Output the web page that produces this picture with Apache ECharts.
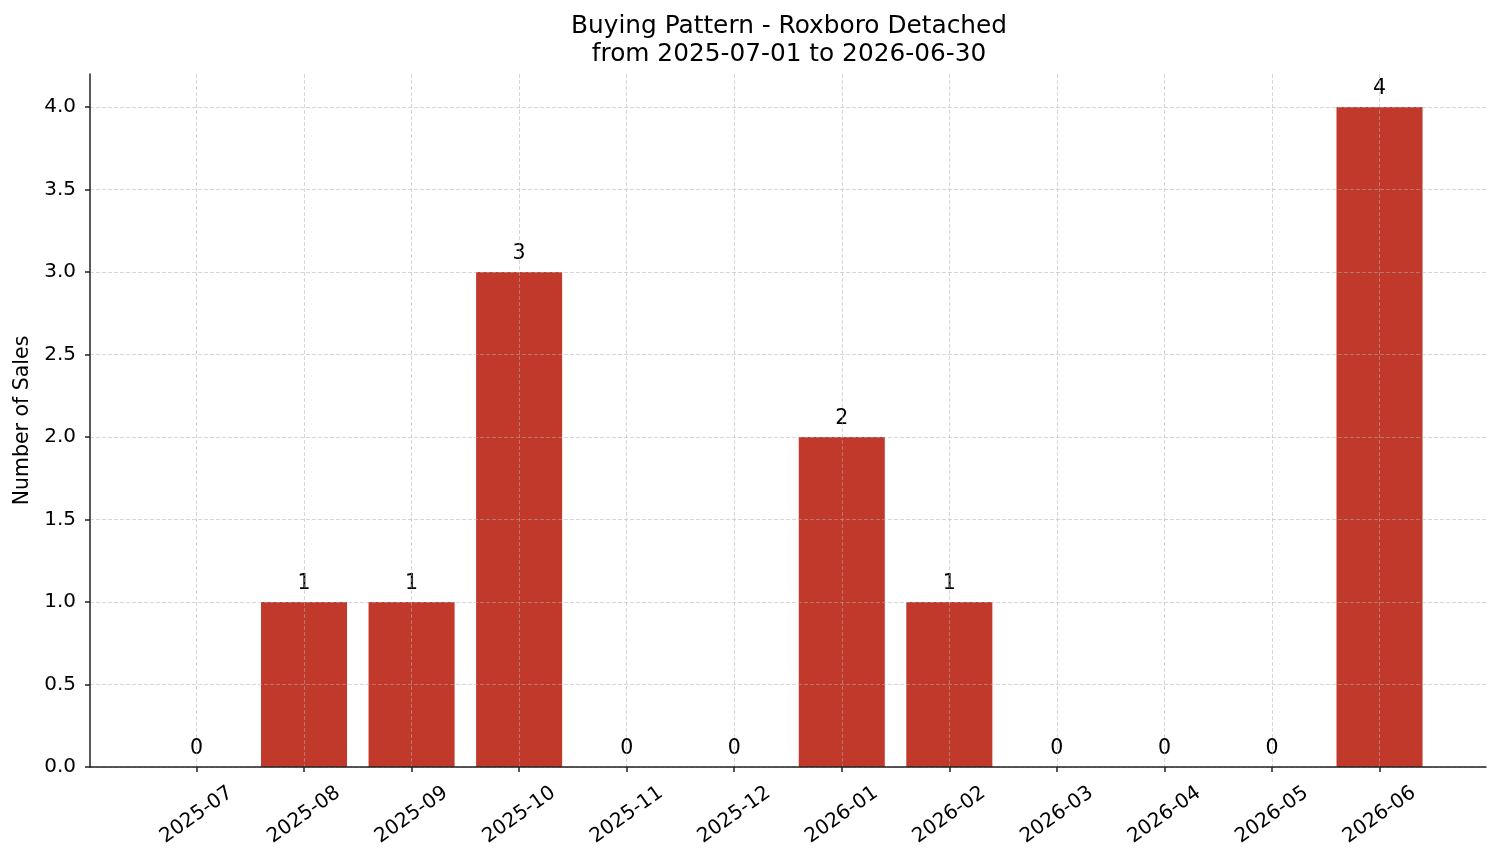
<!DOCTYPE html>
<html>
<head>
<meta charset="utf-8">
<title>Buying Pattern - Roxboro Detached</title>
<script src="https://cdn.jsdelivr.net/npm/echarts@6/dist/echarts.min.js"></script>
<style>
    html, body { margin: 0; padding: 0; background: #fff; }
    #chart { width: 1501px; height: 863px; }
</style>
</head>
<body>
<div id="chart"></div>
<script>
// Monthly sales counts
const months = ['2025-07', '2025-08', '2025-09', '2025-10', '2025-11', '2025-12',
                '2026-01', '2026-02', '2026-03', '2026-04', '2026-05', '2026-06'];
const sales = [0, 1, 1, 3, 0, 0, 2, 1, 0, 0, 0, 4];
const yTicks = [0, 0.5, 1, 1.5, 2, 2.5, 3, 3.5, 4];

const titleText = 'Buying Pattern - Roxboro Detached\nfrom 2025-07-01 to 2026-06-30';
const yAxisName = 'Number of Sales';

const FONT = 'DejaVu Sans';
const xMin = -0.99, xMax = 11.99;
const gridLeft = 90, gridRight = 15;
const plotWidth = 1501 - gridLeft - gridRight;

document.addEventListener('DOMContentLoaded', function() {
    renderChart();
});

function renderChart() {
    const chartDom = document.getElementById('chart');
    const myChart = echarts.init(chartDom);

    const gridLine = {
        show: true,
        lineStyle: { color: 'rgba(176,176,176,0.5)', type: [4, 2], width: 1 }
    };
    const spine = { show: true, onZero: false, lineStyle: { color: '#222', width: 1.5 } };
    const tick = { show: true, length: 5, lineStyle: { color: '#222', width: 1.5 } };

    const option = {
        backgroundColor: '#fff',
        animation: false,
        textStyle: { fontFamily: FONT },
        title: {
            text: titleText,
            left: gridLeft + plotWidth / 2 - 4,
            textAlign: 'center',
            top: 8,
            textStyle: {
                fontFamily: FONT,
                fontSize: 24.8,
                fontWeight: 'normal',
                color: '#000',
                lineHeight: 28
            }
        },
        grid: { left: gridLeft, right: gridRight, top: 74, bottom: 96 },
        xAxis: {
            type: 'value',
            min: xMin,
            max: xMax,
            z: 3,
            axisLine: spine,
            axisTick: Object.assign({ customValues: months.map((m, i) => i) }, tick),
            splitLine: gridLine,
            axisLabel: {
                customValues: months.map((m, i) => i),
                formatter: v => months[Math.round(v)] || '',
                rotate: 35,
                align: 'center',
                verticalAlign: 'middle',
                margin: 48,
                fontSize: 20,
                color: '#000',
                fontFamily: FONT
            }
        },
        yAxis: {
            type: 'value',
            min: 0,
            max: 4.2,
            z: 3,
            name: yAxisName,
            nameLocation: 'middle',
            nameRotate: 90,
            nameGap: 53,
            nameTextStyle: { fontSize: 20.5, color: '#000', fontFamily: FONT },
            axisLine: spine,
            axisTick: Object.assign({ customValues: yTicks }, tick),
            splitLine: gridLine,
            axisLabel: {
                customValues: yTicks,
                formatter: v => v.toFixed(1),
                margin: 14,
                fontSize: 20,
                color: '#000',
                fontFamily: FONT
            }
        },
        series: [{
            type: 'bar',
            data: sales.map((v, i) => [i, v]),
            barWidth: 0.8 * plotWidth / (xMax - xMin),
            itemStyle: { color: '#c0392b' },
            label: {
                show: true,
                position: 'top',
                distance: 8,
                formatter: p => String(p.data[1]),
                fontSize: 20.5,
                color: '#000',
                fontFamily: FONT
            }
        }]
    };

    myChart.setOption(option);
}
</script>
</body>
</html>
